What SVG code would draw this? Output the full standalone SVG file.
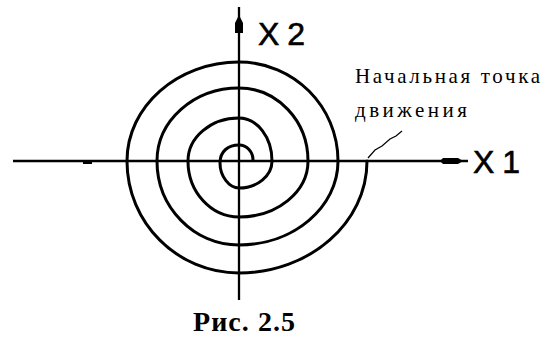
<svg xmlns="http://www.w3.org/2000/svg" width="547" height="338" viewBox="0 0 547 338">
<style>
.axis{stroke:#000;stroke-width:2.3;fill:none}
.spiral{stroke:#000;stroke-width:3;fill:none;stroke-linejoin:round;stroke-linecap:round}
.lead{stroke:#000;stroke-width:1.2;fill:none}
.head{fill:#000;stroke:none}
.lbl{font-family:"Liberation Sans",Arial,sans-serif;font-size:32px;fill:#000;stroke:#000;stroke-width:0.6}
.note{font-family:"Liberation Serif","Times New Roman",serif;font-size:21px;fill:#000}
.cap{font-family:"Liberation Serif","Times New Roman",serif;font-size:28px;font-weight:bold;fill:#000}
</style>
<rect width="547" height="338" fill="#fff"/>
<g id="connectors">
<line class="axis" x1="13" y1="161" x2="468" y2="161"/>
<polygon class="head" points="440,161 443,158 458,158 463,161 458,164 443,164"/>
<rect class="head" x="83" y="161" width="9" height="3"/>
<line class="axis" x1="239" y1="7" x2="239" y2="300"/>
<polygon class="head" points="239,15 243,23 243,33 235,33 235,23"/>
<path class="spiral" d="M367,161 C367,222.8 309.7,273 239,273 C177.2,273 127,222.8 127,161 C127,106.4 177.2,62 239,62 C293.6,62 338,106.4 338,161 C338,207.4 293.6,245 239,245 C193.7,245 157,207.4 157,161 C157,120.7 193.7,88 239,88 C277.1,88 308,120.7 308,161 C308,191.9 277.1,217 239,217 C210.8,217 188,191.9 188,161 C188,137.3 210.8,118 239,118 C257.2,118 272,137.3 272,161 C272,175.9 257.2,188 239,188 C229,188 220,176 220,163 C220,151 228.5,145 239,145 C247,145 253,152 253,160"/>
<polyline class="lead" points="368,158 375,150 382,146 390,139 396,136 402,131"/>
</g>
<g id="label-x2"><text class="lbl" x="258" y="45" textLength="47" lengthAdjust="spacing">X2</text></g>
<g id="label-x1"><text class="lbl" x="473" y="173" textLength="47" lengthAdjust="spacing">X1</text></g>
<g id="note"><text class="note" x="355" y="83" textLength="185" lengthAdjust="spacing">Начальная точка</text>
<text class="note" x="355" y="117" textLength="112" lengthAdjust="spacing">движения</text></g>
<g id="caption"><text class="cap" x="193" y="331" textLength="102" lengthAdjust="spacing">Рис. 2.5</text></g>
</svg>
